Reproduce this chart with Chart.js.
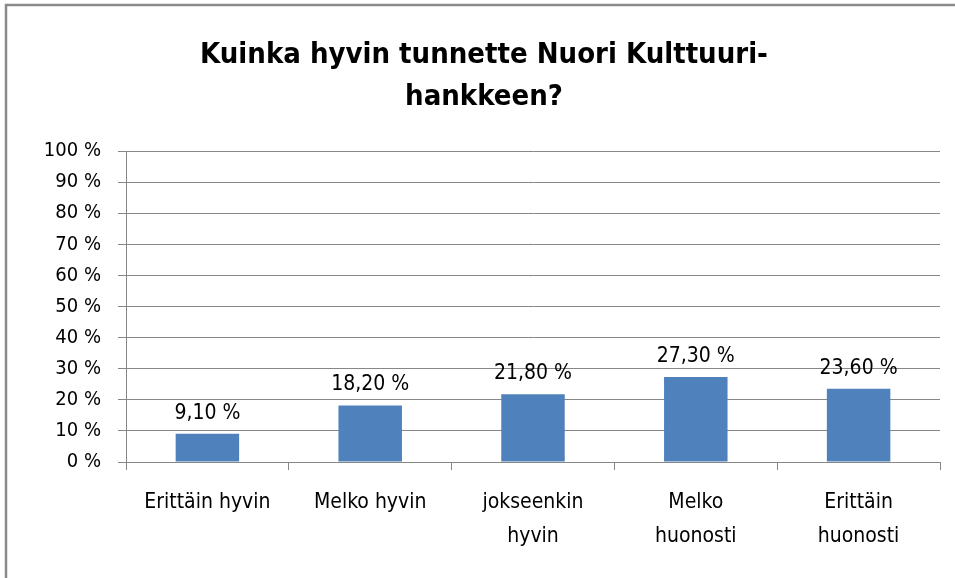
<!DOCTYPE html>
<html><head><meta charset="utf-8">
<script src="https://cdn.jsdelivr.net/npm/chart.js@4/dist/chart.umd.min.js"></script>
<style>html,body{margin:0;padding:0;background:#fff;}#wrap{width:955px;height:578px;position:relative;}</style>
</head><body><div id="wrap"><canvas id="c" width="955" height="578"></canvas></div>
<script>
const categories = ["Erittäin hyvin", "Melko hyvin", ["jokseenkin", "hyvin"], ["Melko", "huonosti"], ["Erittäin", "huonosti"]];
const values = [0.091, 0.182, 0.218, 0.273, 0.236];
const valueLabels = ["9,10 %", "18,20 %", "21,80 %", "27,30 %", "23,60 %"];
const titleLines = ["Kuinka hyvin tunnette Nuori Kulttuuri-", "hankkeen?"];
const FONT = "'Liberation Sans Narrow', 'DejaVu Sans Condensed', sans-serif";

const framePlugin = {
  id: 'frame',
  afterDraw(chart) {
    const ctx = chart.ctx;
    ctx.save();
    ctx.strokeStyle = '#8a8a8a';
    ctx.lineWidth = 2.5;
    ctx.beginPath();
    ctx.moveTo(6, 578);
    ctx.lineTo(6, 5);
    ctx.lineTo(955, 5);
    ctx.stroke();
    ctx.restore();
  }
};
const labelPlugin = {
  id: 'vlabels',
  afterDatasetsDraw(chart) {
    const ctx = chart.ctx;
    const meta = chart.getDatasetMeta(0);
    ctx.save();
    ctx.font = "21px " + FONT;
    ctx.fillStyle = '#000';
    ctx.textAlign = 'center';
    ctx.textBaseline = 'bottom';
    meta.data.forEach((bar, i) => {
      ctx.fillText(valueLabels[i], bar.x, bar.y - 10);
    });
    ctx.restore();
  }
};

new Chart(document.getElementById('c'), {
  type: 'bar',
  data: {
    labels: categories,
    datasets: [{ data: values, backgroundColor: '#4F81BD', categoryPercentage: 1, barPercentage: 0.39 }]
  },
  options: {
    responsive: false,
    animation: false,
    layout: { padding: { left: 28, right: 15, top: 0, bottom: 0 } },
    plugins: {
      legend: { display: false },
      tooltip: { enabled: false },
      title: {
        display: true,
        text: titleLines,
        color: '#000',
        font: { family: FONT, size: 29, weight: 'bold', lineHeight: 1.45 },
        padding: { top: 34, bottom: 33 }
      }
    },
    scales: {
      y: {
        min: 0, max: 1,
        afterFit(s) { s.width = 98; },
        ticks: {
          stepSize: 0.1,
          color: '#000',
          font: { family: FONT, size: 20 },
          padding: 17,
          callback: v => Math.round(v * 100) + ' %'
        },
        grid: { color: '#878787', lineWidth: 1, tickLength: 8, drawTicks: true },
        border: { color: '#878787' }
      },
      x: {
        afterFit(s) { s.height = 116; },
        ticks: {
          color: '#000',
          font: { family: FONT, size: 21, lineHeight: 1.6 },
          padding: 16,
          maxRotation: 0,
          autoSkip: false
        },
        grid: { display: true, drawOnChartArea: false, color: '#878787', tickLength: 8, offset: true },
        border: { color: '#878787' }
      }
    }
  },
  plugins: [framePlugin, labelPlugin]
});
</script>
</body></html>
